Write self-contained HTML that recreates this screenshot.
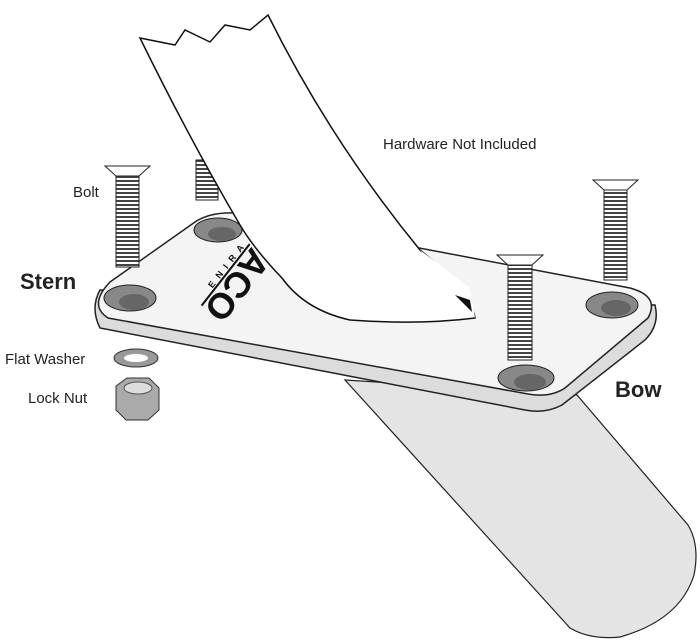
<!DOCTYPE html>
<html><head><style>
html,body{margin:0;padding:0;background:#fff;}
svg{display:block;}
text{font-family:"Liberation Sans",Arial,sans-serif;fill:#222;}
</style></head><body>
<svg width="700" height="643" viewBox="0 0 700 643" xmlns="http://www.w3.org/2000/svg">
<defs>
<pattern id="thr" width="6" height="4" patternUnits="userSpaceOnUse">
<rect width="6" height="4" fill="#fff"/><rect y="0" width="6" height="2" fill="#444"/>
</pattern>
</defs>
<!-- lower blade -->
<path d="M345,380 L577,395 L688,525 Q700,545 694,575 Q680,620 620,637 Q590,640 570,628 Z" fill="#e4e4e4" stroke="#222" stroke-width="1.2"/>
<!-- back bolt behind blade -->
<rect x="196" y="160" width="22" height="40" fill="url(#thr)" stroke="#222"/>
<!-- plate thickness -->
<path d="M100,290 Q90,308 100,328 L525,410 Q545,414 562,405 L645,340 Q660,325 655,305 Z" fill="#dcdcdc" stroke="#222" stroke-width="1.5"/>
<!-- plate top -->
<path d="M110,282 L195,222 Q210,212 235,213 L630,288 Q660,296 648,318 L565,388 Q550,398 528,394 L108,318 Q88,305 110,282 Z" fill="#f4f4f4" stroke="#222" stroke-width="1.5"/>
<!-- holes -->
<g fill="#888" stroke="#222">
<ellipse cx="130" cy="298" rx="26" ry="13"/>
<ellipse cx="218" cy="230" rx="24" ry="12"/>
<ellipse cx="612" cy="305" rx="26" ry="13"/>
<ellipse cx="526" cy="378" rx="28" ry="13"/>
</g>
<g fill="#666">
<ellipse cx="134" cy="302" rx="15" ry="8"/>
<ellipse cx="222" cy="234" rx="14" ry="7"/>
<ellipse cx="616" cy="308" rx="15" ry="8"/>
<ellipse cx="530" cy="382" rx="16" ry="8"/>
</g>
<!-- upper blade -->
<path d="M140,38 L175,45 L185,30 L210,42 L225,25 L250,30 L268,15 Q330,140 420,250 Q470,290 475,318 Q420,325 350,320 Q305,310 282,278 Q255,250 240,225 Q190,140 140,38 Z" fill="#fff" stroke="#111" stroke-width="1.5"/>
<path d="M420,250 L470,288 L475,318 Z" fill="#fff"/>
<path d="M455,295 L470,300 L472,312 Z" fill="#111"/>
<!-- logo -->
<g transform="translate(252,246) rotate(128)">
<text x="0" y="0" font-size="36" font-weight="bold" style="fill:#111">ACO</text>
<line x1="0" y1="3" x2="78" y2="3" stroke="#111" stroke-width="2"/>
<text x="2" y="13" font-size="9" font-weight="bold" letter-spacing="6" style="fill:#111" transform="rotate(180 30 9)">ENIRA</text>
</g>
<!-- bolts -->
<g stroke="#222" stroke-width="1">
<path d="M105,166 L150,166 L139,176 L116,176 Z" fill="#fff"/>
<rect x="116" y="176" width="23" height="91" fill="url(#thr)"/>
<path d="M497,255 L543,255 L532,265 L508,265 Z" fill="#fff"/>
<rect x="508" y="265" width="24" height="95" fill="url(#thr)"/>
<path d="M593,180 L638,180 L627,190 L604,190 Z" fill="#fff"/>
<rect x="604" y="190" width="23" height="90" fill="url(#thr)"/>
</g>
<!-- washer and nut -->
<ellipse cx="136" cy="358" rx="22" ry="9" fill="#999" stroke="#333"/>
<ellipse cx="136" cy="358" rx="12" ry="4" fill="#fff"/>
<path d="M116,386 L127,378 L149,378 L159,388 L159,410 L148,420 L126,420 L116,410 Z" fill="#aaa" stroke="#333"/>
<ellipse cx="138" cy="388" rx="14" ry="6" fill="#ddd" stroke="#555"/>
<!-- labels -->
<text x="383" y="149" font-size="15">Hardware Not Included</text>
<text x="73" y="197" font-size="15">Bolt</text>
<text x="20" y="289" font-size="22" font-weight="bold">Stern</text>
<text x="615" y="397" font-size="22" font-weight="bold">Bow</text>
<text x="5" y="364" font-size="15">Flat Washer</text>
<text x="28" y="403" font-size="15">Lock Nut</text>
</svg>
</body></html>
